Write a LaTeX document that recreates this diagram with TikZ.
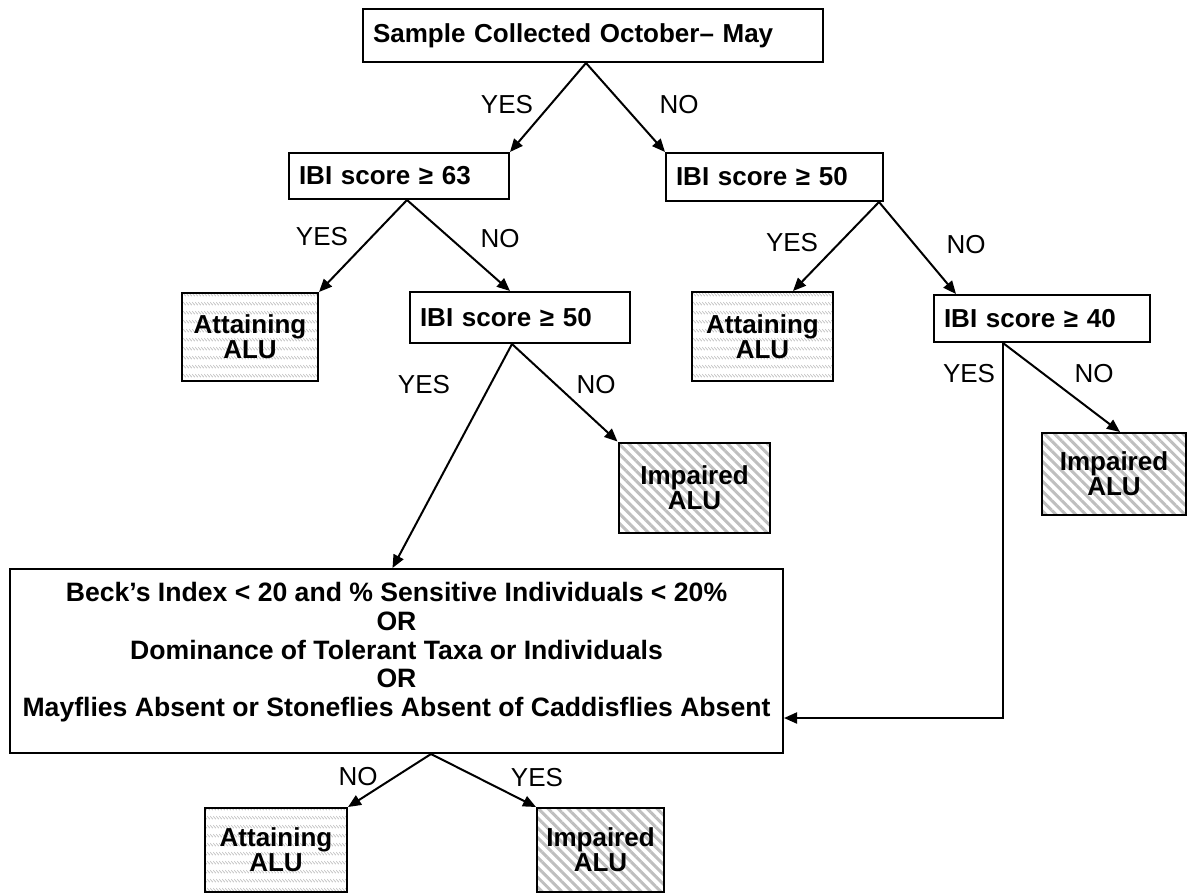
\documentclass[tikz,border=0pt]{standalone}
\usepackage{fontspec}
\setmainfont{Liberation Sans}
\usetikzlibrary{arrows.meta,patterns.meta}

\newcommand\boxfont{\fontsize{13}{12.4}\selectfont\bfseries}
\newcommand\bigfont{\fontsize{13.3}{14.3}\selectfont\bfseries}
\newcommand\ansfont{\fontsize{13}{13}\selectfont}

\pgfdeclarepattern{
  name=dashdiag,
  type=uncolored,
  bottom left={\pgfpoint{0pt}{0pt}},
  top right={\pgfpoint{1.7pt}{4.5pt}},
  tile size={\pgfpoint{1.7pt}{4.5pt}},
  code={
    \pgfsetlinewidth{0.45pt}
    \pgfpathmoveto{\pgfpoint{0pt}{3.8pt}}
    \pgfpathlineto{\pgfpoint{1.7pt}{2.1pt}}
    \pgfusepath{stroke}
  }
}

\tikzset{
  test/.style={draw, line width=1pt, align=left, inner xsep=5pt, font=\boxfont},
  attain/.style={draw, line width=1pt, align=center, font=\boxfont,
    pattern=dashdiag, pattern color=gray!45},
  impair/.style={draw, line width=1pt, align=center, font=\boxfont,
    pattern={Lines[angle=-45,distance=3.5pt,line width=1.5pt]}, pattern color=gray!50},
  ans/.style={font=\ansfont},
  flow/.style={line width=1pt, -{Triangle[length=6.5pt,width=5.5pt]}}
}

\begin{document}
\begin{tikzpicture}[x=0.5pt, y=-0.5pt]
    \useasboundingbox (0,0) rectangle (1187,894);
    \node[test, text width=220pt, minimum height=26.5pt] (a) at (593,35.5) {Sample Collected October– May};
    \node[test, text width=100pt, minimum height=23pt] (b) at (399,176) {IBI score ≥ 63};
    \node[test, text width=98.5pt, minimum height=24pt] (c) at (774.5,177) {IBI score ≥ 50};
    \node[attain, minimum width=68pt, minimum height=44pt] (d) at (250,337) {Attaining\\ALU};
    \node[test, text width=100pt, minimum height=25.5pt] (e) at (520,317.5) {IBI score ≥ 50};
    \node[attain, minimum width=70.5pt, minimum height=44.5pt] (f) at (762.5,336.5) {Attaining\\ALU};
    \node[test, text width=98pt, minimum height=23.5pt] (g) at (1042,318.5) {IBI score ≥ 40};
    \node[impair, minimum width=75.5pt, minimum height=45pt] (h) at (694.5,488) {Impaired\\ALU};
    \node[impair, minimum width=72pt, minimum height=41pt] (i) at (1114,474) {Impaired\\ALU};
    \node[draw, line width=1pt, align=center, font=\bigfont, minimum width=386.5pt, minimum height=92pt] (j) at (396.5,661)
      {Beck’s Index < 20 and \% Sensitive Individuals < 20\%\\OR\\Dominance of Tolerant Taxa or Individuals\\OR\\Mayflies Absent or Stoneflies Absent of Caddisflies Absent\\[-2.8pt]\mbox{}};
    \node[attain, minimum width=71pt, minimum height=42pt] (k) at (276,850) {Attaining\\ALU};
    \node[impair, minimum width=63.5pt, minimum height=42pt] (l) at (600.5,850) {Impaired\\ALU};
    \coordinate (p) at ([xshift=112pt]a.south west);
    \coordinate (q) at ([xshift=59.5pt]b.south west);
    \coordinate (r) at ([xshift=-2.5pt]c.south east);
    \coordinate (s) at ([xshift=51.5pt]e.south west);
    \coordinate (t) at ([xshift=35pt]g.south west);
    \coordinate (u) at ([xshift=17.25pt]j.south);
    \draw[flow] (p) -- (b.north east);
    \draw[flow] (p) -- (c.north west);
    \draw[flow] (q) -- (d.north east);
    \draw[flow] (q) -- ([xshift=-5pt]e.north);
    \draw[flow] (r) -- ([xshift=15.25pt]f.north);
    \draw[flow] (r) -- ([xshift=11.5pt]g.north west);
    \draw[flow] (s) -- ([xshift=-2pt]j.north);
    \draw[flow] (s) -- (h.north west);
    \draw[flow] (t) |- ([yshift=-28.5pt]j.east);
    \draw[flow] (t) -- ([xshift=3pt]i.north);
    \draw[flow] (u) -- (k.north east);
    \draw[flow] (u) -- (l.north west);
    \node[ans] (y1) at (507,105) {YES};
    \node[ans] (n1) at (679,105) {NO};
    \node[ans] (y2) at (322,237) {YES};
    \node[ans] (n2) at (500,239) {NO};
    \node[ans] (y3) at (792,243) {YES};
    \node[ans] (n3) at (966,245) {NO};
    \node[ans] (y4) at (424,385) {YES};
    \node[ans] (n4) at (596,385) {NO};
    \node[ans] (y5) at (969,374) {YES};
    \node[ans] (n5) at (1094,374) {NO};
    \node[ans] (n6) at (358,777) {NO};
    \node[ans] (y6) at (537,778) {YES};
  \end{tikzpicture}
\end{document}
